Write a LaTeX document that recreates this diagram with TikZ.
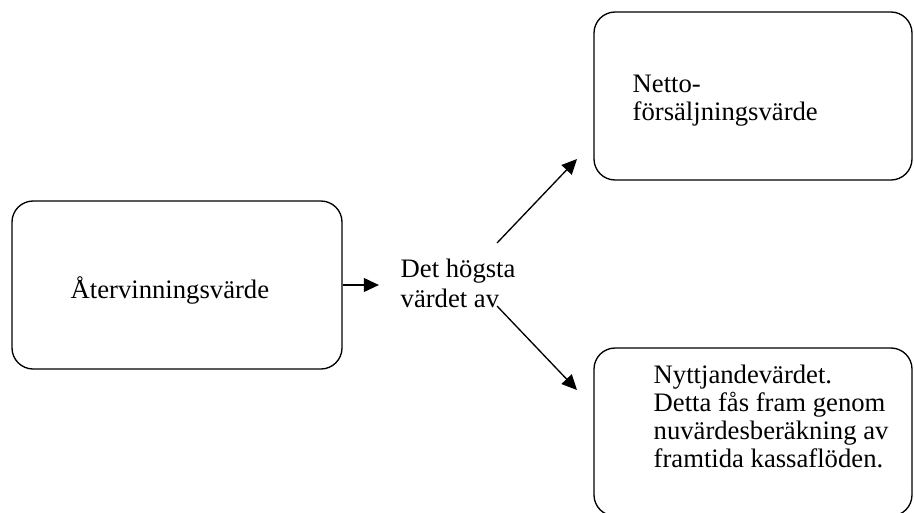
\documentclass[tikz,border=0pt]{standalone}
\usepackage{fontspec}
\setmainfont{Liberation Serif}
\usetikzlibrary{arrows.meta}

\begin{document}
\begin{tikzpicture}[x=0.45pt, y=-0.45pt, line width=0.6pt,
                    ruta/.style={draw, rounded corners=9.5pt, minimum width=#1, minimum height=75.6pt, inner sep=0pt},
                    txt/.style={anchor=base west, inner sep=0pt, align=left, font=\fontsize{12}{12.6}\selectfont},
                    pil/.style={-{Triangle[length=6.8pt, width=6.3pt]}}
                    ]
    \useasboundingbox (0,0) rectangle (914,512);
    \node[ruta=148.5pt] (vinn)  at (177,285) {};
    \node[ruta=143.1pt] (netto) at (753,96)  {};
    \node[ruta=143.1pt] (nytt)  at (753,432) {};
    % base = baseline of the last line
    \node[txt] (vinntxt)  at (70,298)  {Återvinningsvärde};
    \node[txt] (nettotxt) at (632,120) {Netto-\\försäljningsvärde};
    \node[txt] (nytttxt)  at (653,467) {Nyttjandevärdet.\\Detta fås fram genom\\nuvärdesberäkning av\\framtida kassaflöden.};
    \node[txt, font=\fontsize{12}{13.4}\selectfont] (mid) at (400,307) {Det högsta\\värdet av};
    \coordinate (hi from) at (497,243);
    \coordinate (hi to)   at (577,159);
    \coordinate (lo from) at (497,306);
    \coordinate (lo to)   at (577,390);
    \draw[pil, shorten >=9.5pt] (vinn.east) -- (vinn.east -| mid.west);
    \draw[pil] (hi from) -- (hi to);
    \draw[pil] (lo from) -- (lo to);
\end{tikzpicture}
\end{document}
